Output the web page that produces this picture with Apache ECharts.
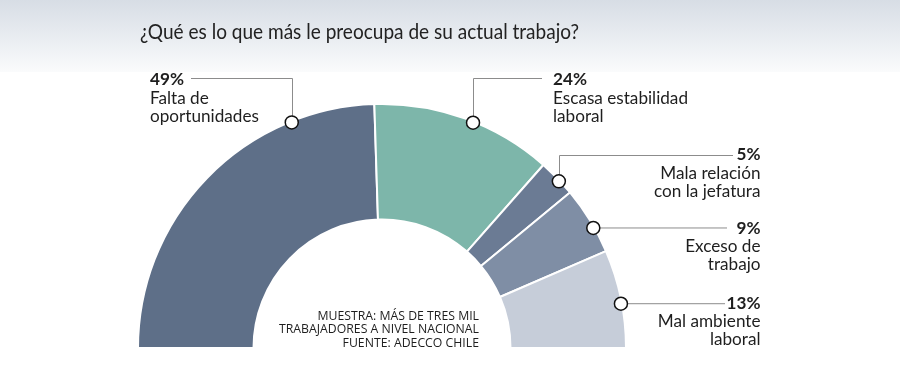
<!DOCTYPE html>
<html><head><meta charset="utf-8">
<script src="https://cdn.jsdelivr.net/npm/echarts@6/dist/echarts.min.js"></script>
<style>html,body{margin:0;padding:0;background:#fff}#c{width:900px;height:389px}</style>
</head><body><div id="c"></div>
<script>
// ---- data ----
const categories = ['Falta de oportunidades', 'Escasa estabilidad laboral', 'Mala relación con la jefatura', 'Exceso de trabajo', 'Mal ambiente laboral'];
const values = [49, 24, 5, 9, 13];
const labelLines = [['Falta de', 'oportunidades'], ['Escasa estabilidad', 'laboral'], ['Mala relación', 'con la jefatura'], ['Exceso de', 'trabajo'], ['Mal ambiente', 'laboral']];
const titleText = '¿Qué es lo que más le preocupa de su actual trabajo?';
const noteLines = ['MUESTRA: MÁS DE TRES MIL', 'TRABAJADORES A NIVEL NACIONAL', 'FUENTE: ADECCO CHILE'];
// where each callout touches the outer arc (degrees)
const anchorAngles = [111.8, 68, 43.3, 29.6, 10.5];

// ---- style / layout ----
const colors = ['#5e6f88', '#7db6aa', '#6b7b94', '#7f8ea5', '#c6cdd9'];
const CX = 382, CY = 348, R_IN = 128.5, R_OUT = 244;
const LABEL_FONT = 'Lato, "Noto Sans", sans-serif';
const NOTE_FONT = '"Open Sans", "Noto Sans", sans-serif';
const callouts = [
  { elbowY: 78.5, endX: 191, textX: 150, align: 'left', base: 85 },
  { elbowY: 78.5, endX: 542, textX: 553, align: 'left', base: 85 },
  { elbowY: 155.5, endX: 733, textX: 760.5, align: 'right', base: 160 },
  { elbowY: null, endX: 727, textX: 760.5, align: 'right', base: 233.3 },
  { elbowY: null, endX: 725, textX: 760.5, align: 'right', base: 308.3 }
];
const LH = 18.4, FS = 17;

const ctx = document.createElement('canvas').getContext('2d');
function textW(t, font) { ctx.font = font; return ctx.measureText(t).width; }
const labelScale = 135 / textW('Escasa estabilidad', FS + 'px ' + LABEL_FONT);
const titleScale = 439 / textW(titleText, '22px ' + LABEL_FONT);
const noteScale = 200 / textW(noteLines[1], '12px ' + NOTE_FONT);

const chart = echarts.init(document.getElementById('c'), null, { renderer: 'canvas' });
chart.setOption({
  animation: false,
  backgroundColor: '#fff',
  polar: { center: [CX, CY], radius: R_OUT - 1 },
  angleAxis: { type: 'value', min: 0, max: 360, startAngle: 0, clockwise: false, show: false },
  radiusAxis: { type: 'value', min: 0, max: 1, show: false },
  series: [
    {
      type: 'pie', center: [CX, CY], radius: [R_IN, R_OUT],
      startAngle: 180, endAngle: 0, clockwise: true, silent: true, z: 2,
      label: { show: false }, labelLine: { show: false },
      itemStyle: { borderColor: '#fff', borderWidth: 2 },
      data: categories.map((c, i) => ({ name: c, value: values[i], itemStyle: { color: colors[i] } }))
    },
    {
      type: 'scatter', coordinateSystem: 'polar', silent: true, z: 10,
      symbol: 'circle', symbolSize: 13,
      itemStyle: { color: '#fff', borderColor: '#111', borderWidth: 1.5, opacity: 1 },
      data: anchorAngles.map(a => [1, a])
    }
  ]
});

const g = [];
g.push({ type: 'rect', z: -10, shape: { x: 0, y: 0, width: 900, height: 72 },
  style: { fill: new echarts.graphic.LinearGradient(0, 0, 0, 1, [{ offset: 0, color: '#d7dde5' }, { offset: 1, color: '#fafbfc' }]) } });
g.push({ type: 'text', x: 140, y: 39 - 0.3 * 22, scaleX: titleScale, z: 5,
  style: { text: titleText, x: 0, y: 0, font: '22px ' + LABEL_FONT, fill: '#222', align: 'left', verticalAlign: 'middle' } });

callouts.forEach((c, i) => {
  const p = chart.convertToPixel({ seriesIndex: 1 }, [1, anchorAngles[i]]);
  const pts = c.elbowY != null
    ? [[p[0], p[1]], [Math.round(p[0]) + 0.5, c.elbowY], [c.endX, c.elbowY]]
    : [[p[0], p[1]], [c.endX, p[1]]];
  if (c.elbowY != null) pts[0][0] = Math.round(p[0]) + 0.5;
  g.push({ type: 'polyline', z: 3, shape: { points: pts }, style: { stroke: '#8c8c8c', lineWidth: 1, fill: null } });
  const lines = [values[i] + '%'].concat(labelLines[i]);
  lines.forEach((t, k) => {
    g.push({ type: 'text', x: c.textX, y: c.base + k * LH - 0.3 * FS, scaleX: labelScale, z: 5,
      style: { text: t, x: 0, y: 0, font: (k === 0 ? 'bold ' : '') + FS + 'px ' + LABEL_FONT,
        fill: '#1e1e1e', align: c.align, verticalAlign: 'middle' } });
  });
});

const noteBase = [320.7, 334.2, 347.8];
noteLines.forEach((t, k) => {
  g.push({ type: 'text', x: 479, y: noteBase[k] - 0.36 * 12, scaleX: noteScale, z: 5,
    style: { text: t, x: 0, y: 0, font: '12px ' + NOTE_FONT, fill: '#1e1e1e', align: 'right', verticalAlign: 'middle' } });
});

chart.setOption({ graphic: g });
</script>
</body></html>
